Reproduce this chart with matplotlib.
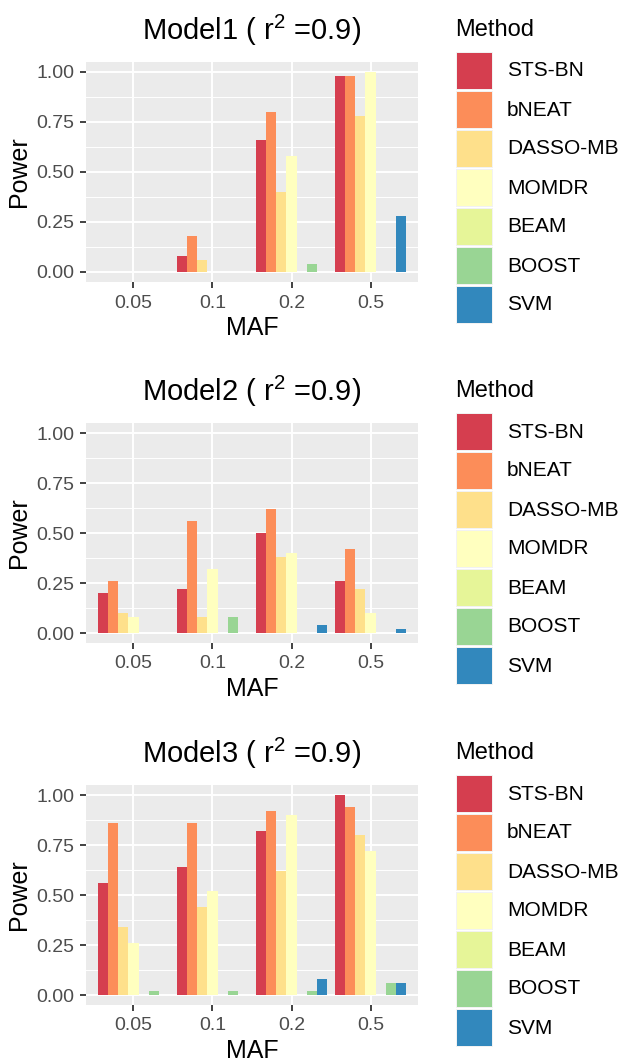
import matplotlib
matplotlib.use("Agg")
import matplotlib.pyplot as plt
from matplotlib.patches import Rectangle
import numpy as np

plt.rcParams['font.family'] = ['Liberation Sans', 'DejaVu Sans']
plt.rcParams['mathtext.fontset'] = 'custom'
plt.rcParams['mathtext.rm'] = 'Liberation Sans'
plt.rcParams['mathtext.default'] = 'regular'

maf_labels = ["0.05", "0.1", "0.2", "0.5"]
methods = ["STS-BN", "bNEAT", "DASSO-MB", "MOMDR", "BEAM", "BOOST", "SVM"]
colors = ["#D53E4F", "#FC8D59", "#FEE08B", "#FFFFBF", "#E6F598", "#99D594", "#3288BD"]
titles = ["Model1", "Model2", "Model3"]

# rows: methods, cols: MAF
model1 = [
    [0.00, 0.08, 0.66, 0.98],
    [0.00, 0.18, 0.80, 0.98],
    [0.00, 0.06, 0.40, 0.78],
    [0.00, 0.00, 0.58, 1.00],
    [0.00, 0.00, 0.00, 0.00],
    [0.00, 0.00, 0.04, 0.00],
    [0.00, 0.00, 0.00, 0.28],
]
model2 = [
    [0.20, 0.22, 0.50, 0.26],
    [0.26, 0.56, 0.62, 0.42],
    [0.10, 0.08, 0.38, 0.22],
    [0.08, 0.32, 0.40, 0.10],
    [0.00, 0.00, 0.00, 0.00],
    [0.00, 0.08, 0.00, 0.00],
    [0.00, 0.00, 0.04, 0.02],
]
model3 = [
    [0.56, 0.64, 0.82, 1.00],
    [0.86, 0.86, 0.92, 0.94],
    [0.34, 0.44, 0.62, 0.80],
    [0.26, 0.52, 0.90, 0.72],
    [0.00, 0.00, 0.00, 0.00],
    [0.02, 0.02, 0.02, 0.06],
    [0.00, 0.00, 0.08, 0.06],
]
models = [model1, model2, model3]

W, H = 620, 1064
fig = plt.figure(figsize=(W / 100, H / 100), dpi=100)
fig.patch.set_facecolor("white")

def px_axes(left, top, right, bottom):
    return fig.add_axes([left / W, 1 - bottom / H, (right - left) / W, (bottom - top) / H])

grey30 = "#4D4D4D"
offset = [0, 361, 723]
n_m = len(methods)
bw = 0.9 / n_m
xc = np.arange(len(maf_labels))

for k, data in enumerate(models):
    o = offset[k]
    ax = px_axes(86, 62 + o, 418, 282 + o)
    ax.set_facecolor("#EBEBEB")
    for j in range(n_m):
        ax.bar(xc + (j - (n_m - 1) / 2) * bw, data[j], width=bw, color=colors[j],
               linewidth=0, zorder=3)
    ax.set_xlim(-0.6, len(maf_labels) - 0.4)
    ax.set_ylim(-0.05, 1.05)
    ax.set_xticks(xc)
    ax.set_xticklabels(maf_labels)
    yt = [0, 0.25, 0.5, 0.75, 1.0]
    ax.set_yticks(yt)
    ax.set_yticklabels(["0.00", "0.25", "0.50", "0.75", "1.00"])
    ax.set_yticks([0.125, 0.375, 0.625, 0.875], minor=True)
    ax.grid(True, which="major", color="white", linewidth=1.4, zorder=1)
    ax.grid(True, which="minor", axis="y", color="white", linewidth=0.7, zorder=1)
    ax.tick_params(axis="both", which="major", length=4, width=1.3, color="#333333",
                   labelcolor=grey30, labelsize=14, pad=4.5)
    ax.tick_params(axis="x", pad=5)
    ax.tick_params(which="minor", length=0)
    for s in ax.spines.values():
        s.set_visible(False)
    ax.set_axisbelow(True)
    ax.set_xlabel("MAF", fontsize=18, color="black", labelpad=3)
    ax.set_ylabel("Power", fontsize=18, color="black", labelpad=4)
    ax.set_title(titles[k] + r" ( r$^{2}$ =0.9)", fontsize=21, color="black", pad=16)

    # legend
    lg = px_axes(440, 0 + o, 620, 340 + o)
    lg.set_xlim(440, 620)
    lg.set_ylim(340 + o, 0 + o)
    lg.axis("off")
    lg.text(455, 30 + o, "Method", fontsize=17, va="center", ha="left")
    for j, m in enumerate(methods):
        y0 = 53 + j * 39 + o
        lg.add_patch(Rectangle((456, y0 - 1), 37, 38, facecolor="#F2F2F2", edgecolor="none"))
        lg.add_patch(Rectangle((457, y0), 35, 36, facecolor=colors[j], edgecolor="none"))
        lg.text(507, y0 + 18, m, fontsize=15, va="center", ha="left")

fig.savefig("out.png", dpi=100, facecolor="white")
